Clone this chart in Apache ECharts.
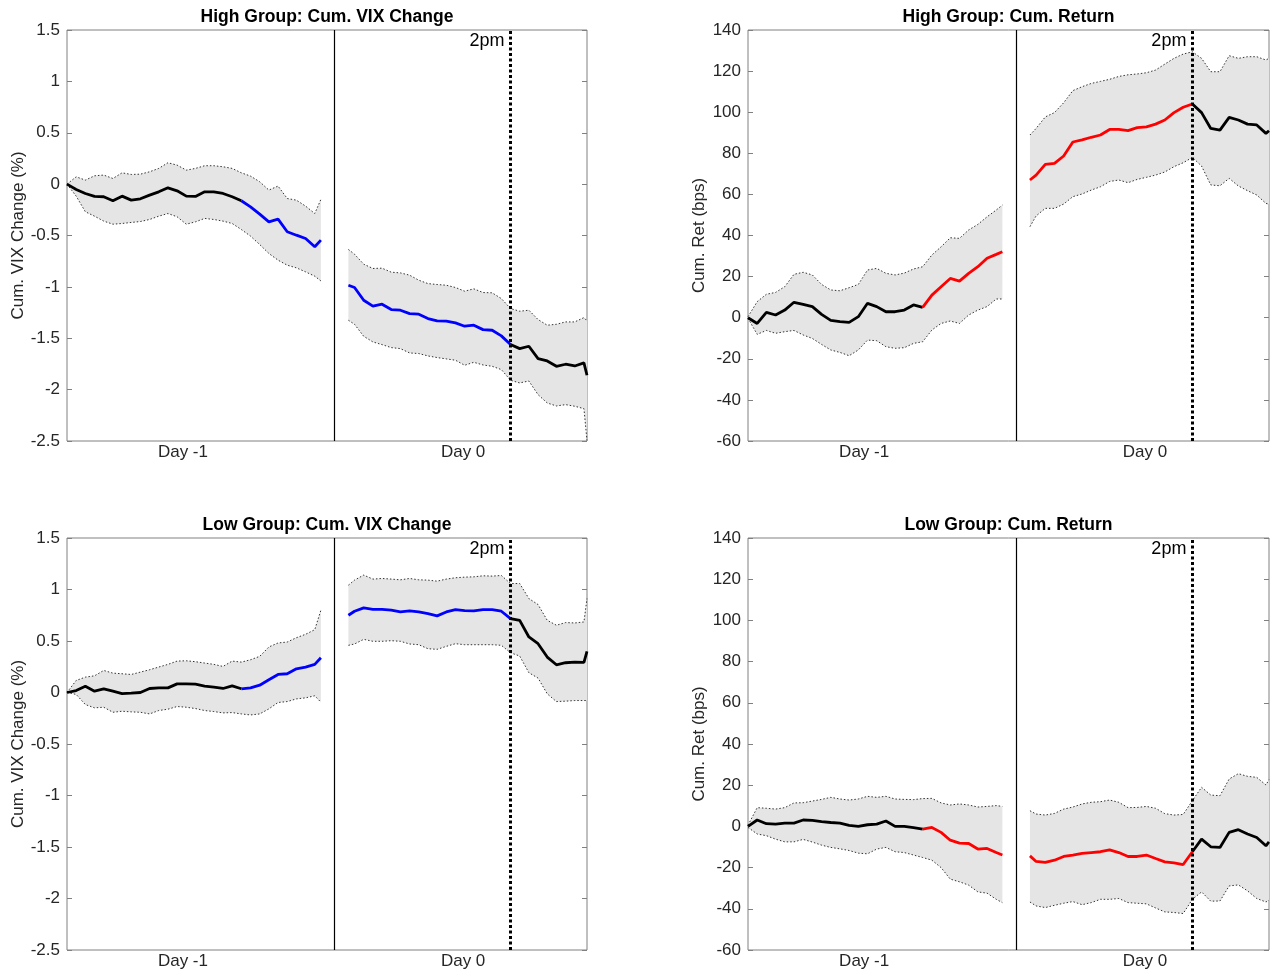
<!DOCTYPE html>
<html><head><meta charset="utf-8">
<script src="https://cdn.jsdelivr.net/npm/echarts@6/dist/echarts.min.js"></script>
<style>html,body{margin:0;padding:0;background:#fff}#c{width:1270px;height:973px}</style>
</head><body><div id="c"></div><script>
// x positions (5-minute bar index) of the sampled points
const d1X = [0,3,6,9,12,15,18,21,24,27,30,33,36,39,42,45,48,51,54,57,60,63,66,69,72,75,78,81,83];
const d0X = [92,94,97,100,103,106,109,112,115,118,121,124,127,130,133,136,139,142,145,148,151,154,157,160,163,166,169,170];
const colorStartD1 = 57;   // colored segment start on Day -1
const twoPm = 145;         // 2pm on Day 0
const dayBreak = 87.5;     // boundary between days
const xMax = 170;
const dayLabelPos = [37.9, 129.5];
const dayLabels = ['Day -1', 'Day 0'];

// High group, VIX
const hvMeanD1 = [0,-0.052,-0.091,-0.12,-0.123,-0.162,-0.117,-0.156,-0.143,-0.107,-0.075,-0.036,-0.065,-0.117,-0.12,-0.075,-0.075,-0.091,-0.123,-0.162,-0.221,-0.292,-0.367,-0.341,-0.464,-0.497,-0.529,-0.61,-0.545];
const hvUpD1 = [0,0.071,0.039,0.081,0.088,0.055,0.110,0.094,0.097,0.120,0.153,0.208,0.185,0.136,0.153,0.179,0.179,0.169,0.153,0.110,0.078,0.023,-0.058,-0.019,-0.140,-0.156,-0.214,-0.286,-0.149];
const hvLoD1 = [0,-0.117,-0.269,-0.312,-0.360,-0.390,-0.383,-0.373,-0.364,-0.344,-0.312,-0.286,-0.318,-0.390,-0.367,-0.334,-0.344,-0.360,-0.383,-0.442,-0.506,-0.588,-0.675,-0.740,-0.789,-0.815,-0.854,-0.896,-0.942];
const hvMeanD0 = [-0.984,-1.006,-1.130,-1.188,-1.169,-1.221,-1.227,-1.26,-1.266,-1.308,-1.331,-1.334,-1.351,-1.383,-1.373,-1.416,-1.422,-1.477,-1.56,-1.601,-1.578,-1.698,-1.721,-1.773,-1.753,-1.77,-1.74,-1.86];
const hvUpD0 = [-0.636,-0.682,-0.779,-0.821,-0.818,-0.857,-0.864,-0.886,-0.935,-0.968,-0.977,-0.984,-1.006,-1.042,-1.019,-1.055,-1.058,-1.114,-1.211,-1.237,-1.227,-1.318,-1.373,-1.364,-1.341,-1.341,-1.299,-1.331];
const hvLoD0 = [-1.325,-1.364,-1.481,-1.536,-1.562,-1.591,-1.601,-1.643,-1.649,-1.672,-1.688,-1.701,-1.714,-1.763,-1.734,-1.760,-1.773,-1.805,-1.909,-1.935,-1.916,-2.049,-2.130,-2.159,-2.146,-2.162,-2.185,-2.494];

// High group, return
const hrMeanD1 = [0,-2.8,2.6,1.3,3.7,7.5,6.5,5.4,1.6,-1.3,-1.9,-2.3,0.5,7.0,5.4,2.9,2.9,3.7,6.2,5.0,11.0,15.1,19.1,17.8,21.6,24.8,28.9,30.8,32.1];
const hrUpD1 = [0.5,7.8,11.4,12.3,15.1,21.1,22.1,20.8,16.2,13.5,13.1,14.6,16.2,23.2,24.0,21.6,20.8,21.7,23.7,24.8,30.5,34.5,38.9,38.6,42.7,45.4,49.1,52.4,54.8];
const hrLoD1 = [-0.3,-8.1,-6.2,-7.6,-6.8,-6.2,-8.4,-10.1,-13.0,-15.7,-16.9,-18.5,-15.7,-10.9,-11.2,-14.1,-14.9,-14.6,-12.5,-11.7,-6.0,-2.8,-1.6,-2.8,1.3,3.7,5.4,9.1,9.1];
const hrMeanD0 = [67.0,69.4,74.6,75.1,78.7,85.5,86.5,87.8,88.9,91.6,91.6,91.0,92.5,92.9,94.2,96.2,99.8,102.4,104.0,99.8,92.1,91.3,97.5,96.2,94.2,93.8,89.7,91.0];
const hrUpD0 = [88.9,92.1,97.7,99.8,104.6,110.5,112.4,114.0,115.0,116.0,117.4,118.2,118.6,119.2,120.5,123.4,126.2,128.3,129.4,126.2,119.7,119.7,127.5,126.2,127.0,127.0,125.4,126.2];
const hrLoD0 = [44.3,49.5,53.2,53.2,55.3,58.9,60.2,62.1,63.7,66.3,67.0,65.7,67.3,68.3,69.4,70.9,73.5,75.4,78.0,73.8,64.6,64.2,67.8,64.1,61.8,59.7,55.6,55.3];

// Low group, VIX
const lvMeanD1 = [0,0.019,0.06,0.013,0.036,0.013,-0.01,-0.006,0,0.039,0.045,0.045,0.084,0.084,0.081,0.062,0.052,0.039,0.065,0.036,0.045,0.071,0.123,0.175,0.182,0.230,0.247,0.273,0.338];
const lvUpD1 = [0,0.117,0.149,0.162,0.214,0.188,0.182,0.175,0.198,0.221,0.247,0.273,0.305,0.308,0.299,0.286,0.273,0.253,0.305,0.295,0.318,0.351,0.442,0.481,0.490,0.532,0.565,0.610,0.799];
const lvLoD1 = [0,-0.019,-0.117,-0.149,-0.143,-0.192,-0.182,-0.188,-0.192,-0.208,-0.175,-0.162,-0.136,-0.143,-0.156,-0.175,-0.185,-0.198,-0.195,-0.208,-0.218,-0.208,-0.159,-0.097,-0.088,-0.062,-0.052,-0.032,-0.094];
const lvMeanD0 = [0.750,0.789,0.821,0.808,0.808,0.799,0.782,0.792,0.782,0.766,0.744,0.782,0.805,0.795,0.792,0.805,0.805,0.789,0.718,0.70,0.539,0.474,0.344,0.269,0.289,0.295,0.292,0.399];
const lvUpD0 = [1.042,1.091,1.140,1.101,1.107,1.101,1.094,1.107,1.094,1.091,1.081,1.101,1.114,1.120,1.123,1.133,1.130,1.136,1.058,1.058,0.912,0.854,0.701,0.653,0.679,0.675,0.685,0.912];
const lvLoD0 = [0.458,0.471,0.516,0.497,0.497,0.503,0.497,0.471,0.464,0.425,0.419,0.448,0.474,0.464,0.464,0.464,0.464,0.458,0.386,0.354,0.192,0.140,-0.013,-0.088,-0.084,-0.078,-0.078,-0.078];

// Low group, return
const lrMeanD1 = [0,3.1,1.3,1.1,1.6,1.6,3.1,2.9,2.3,1.9,1.6,0.5,0,0.8,1.1,2.6,0,0,-0.6,-1.3,-0.5,-2.9,-6.7,-8.1,-8.3,-11.0,-10.7,-12.7,-13.9];
const lrUpD1 = [0.6,9.1,8.8,8.4,9.1,11.4,11.5,12.3,13.1,14.1,13.3,12.8,13.3,14.6,14.1,14.6,13.3,13.1,13.0,13.5,13.6,11.4,10.4,10.9,10.4,9.4,9.7,10.1,9.7];
const lrLoD1 = [-0.5,-3.7,-4.5,-6.2,-7.5,-7.5,-6.3,-7.6,-9.1,-10.2,-10.9,-11.7,-13.0,-13.3,-11.0,-10.2,-12.3,-12.7,-13.9,-15.1,-16.4,-20.0,-25.6,-26.9,-28.5,-31.8,-32.4,-35.4,-37.0];
const lrMeanD0 = [-14.3,-17.0,-17.5,-16.4,-14.6,-13.9,-13.1,-12.7,-12.3,-11.4,-12.7,-14.6,-14.6,-13.9,-15.6,-17.2,-17.7,-18.5,-12.3,-6.2,-9.9,-10.2,-2.9,-1.6,-3.7,-5.4,-9.4,-7.5];
const lrUpD0 = [7.6,6.0,5.5,6.3,8.4,9.4,10.9,11.7,12.0,12.8,11.7,9.1,9.2,9.7,8.8,6.2,5.5,5.8,12.5,19.0,15.2,14.9,23.0,25.6,24.3,23.8,20.1,22.7];
const lrLoD0 = [-36.7,-38.6,-39.4,-38.3,-37.3,-36.5,-38.0,-37.0,-35.4,-35.4,-35.0,-37.0,-37.3,-37.6,-39.6,-41.5,-41.8,-42.3,-35.4,-31.8,-36.3,-36.2,-28.9,-28.4,-31.3,-35.0,-36.7,-35.8];

const panels = [
  {title:'High Group: Cum. VIX Change', yName:'Cum. VIX Change (%)', yMin:-2.5, yMax:1.5, yInt:0.5, col:'#0000ff',
   m1:hvMeanD1,u1:hvUpD1,l1:hvLoD1,m0:hvMeanD0,u0:hvUpD0,l0:hvLoD0},
  {title:'High Group: Cum. Return', yName:'Cum. Ret (bps)', yMin:-60, yMax:140, yInt:20, col:'#ff0000',
   m1:hrMeanD1,u1:hrUpD1,l1:hrLoD1,m0:hrMeanD0,u0:hrUpD0,l0:hrLoD0},
  {title:'Low Group: Cum. VIX Change', yName:'Cum. VIX Change (%)', yMin:-2.5, yMax:1.5, yInt:0.5, col:'#0000ff',
   m1:lvMeanD1,u1:lvUpD1,l1:lvLoD1,m0:lvMeanD0,u0:lvUpD0,l0:lvLoD0},
  {title:'Low Group: Cum. Return', yName:'Cum. Ret (bps)', yMin:-60, yMax:140, yInt:20, col:'#ff0000',
   m1:lrMeanD1,u1:lrUpD1,l1:lrLoD1,m0:lrMeanD0,u0:lrUpD0,l0:lrLoD0}
];

const gridRects = [
  {left:67, top:30, width:520, height:411},
  {left:748, top:30, width:521, height:411},
  {left:67, top:538, width:520, height:412},
  {left:748, top:538, width:521, height:412}
];

const FONT = 'Liberation Sans, Arial, Helvetica, sans-serif';
const TXT = '#262626';
const BOX = '#808080';

function zip(xs, ys, a, b) {
  const out = [];
  for (let k = a; k < b; k++) out.push([xs[k], ys[k]]);
  return out;
}

const grid = [], xAxis = [], yAxis = [], series = [], graphic = [];
const s1 = d1X.indexOf(colorStartD1);
const s0 = d0X.indexOf(twoPm);

panels.forEach((p, i) => {
  const g = gridRects[i];
  grid.push(Object.assign({show:true, borderColor:BOX, borderWidth:1, backgroundColor:'transparent', containLabel:false}, g));
  xAxis.push({
    type:'value', gridIndex:i, min:0, max:xMax,
    axisLine:{show:false}, axisTick:{show:false}, splitLine:{show:false},
    axisLabel:{customValues:dayLabelPos, formatter:(v)=>{const k=dayLabelPos.indexOf(v);return k>=0?dayLabels[k]:'';},
      fontSize:17, color:TXT, margin:3, fontFamily:FONT}
  });
  yAxis.push({
    type:'value', gridIndex:i, min:p.yMin, max:p.yMax, interval:p.yInt, position:'left',
    axisLine:{show:false}, splitLine:{show:false},
    axisTick:{show:true, inside:true, length:5, lineStyle:{color:BOX}},
    axisLabel:{fontSize:17, color:TXT, margin:7, fontFamily:FONT},
    name:p.yName, nameLocation:'middle', nameGap:40,
    nameTextStyle:{fontSize:17, color:TXT, fontFamily:FONT}
  });
  yAxis.push({
    type:'value', gridIndex:i, min:p.yMin, max:p.yMax, interval:p.yInt, position:'right',
    axisLine:{show:false}, splitLine:{show:false}, axisLabel:{show:false},
    axisTick:{show:true, inside:true, length:5, lineStyle:{color:BOX}}
  });
  const xi = i, yi = 2*i;
  const days = [[d1X, p.m1, p.u1, p.l1], [d0X, p.m0, p.u0, p.l0]];
  days.forEach(([xs, m, u, l], di) => {
    // shaded band
    series.push({
      type:'custom', xAxisIndex:xi, yAxisIndex:yi, silent:true, z:1,
      data:[[xs[0], m[0]]],
      renderItem:(params, api) => {
        const pts = [];
        for (let k = 0; k < xs.length; k++) pts.push(api.coord([xs[k], u[k]]));
        for (let k = xs.length - 1; k >= 0; k--) pts.push(api.coord([xs[k], l[k]]));
        return {type:'polygon', shape:{points:pts}, style:{fill:'#e5e5e5', stroke:null}};
      }
    });
    // dotted bounds
    [u, l].forEach((arr) => {
      series.push({
        type:'line', xAxisIndex:xi, yAxisIndex:yi, silent:true, z:2, showSymbol:false,
        data:zip(xs, arr, 0, xs.length),
        lineStyle:{color:'#333', width:1, type:[1.5,2]}
      });
    });
    // mean line: black / colored segments
    const split = di === 0 ? s1 : s0;
    const firstCol = di === 0 ? '#000000' : p.col;
    const secondCol = di === 0 ? p.col : '#000000';
    series.push({
      type:'line', xAxisIndex:xi, yAxisIndex:yi, silent:true, z:4, showSymbol:false,
      data:zip(xs, m, 0, split + 1), lineStyle:{color:firstCol, width:2.8}
    });
    series.push({
      type:'line', xAxisIndex:xi, yAxisIndex:yi, silent:true, z:4, showSymbol:false,
      data:zip(xs, m, split, xs.length), lineStyle:{color:secondCol, width:2.8}
    });
  });
  // vertical lines
  series.push({
    type:'line', xAxisIndex:xi, yAxisIndex:yi, silent:true, z:5, data:[],
    markLine:{silent:true, symbol:['none','none'], label:{show:false}, animation:false,
      data:[
        {xAxis:dayBreak, lineStyle:{color:'#000', width:1.2, type:'solid'}},
        {xAxis:twoPm, lineStyle:{color:'#000', width:3, type:[3,2.5]}}
      ]}
  });
  // 2pm label
  series.push({
    type:'scatter', xAxisIndex:xi, yAxisIndex:yi, silent:true, z:6, symbolSize:2, clip:false,
    itemStyle:{color:'rgba(0,0,0,0)'},
    data:[[twoPm, p.yMax]],
    label:{show:true, formatter:'2pm', position:[-5, 3], align:'right', verticalAlign:'top',
      fontSize:18, color:'#000000', opacity:1, fontFamily:FONT}
  });
  // title
  graphic.push({
    type:'text', x:g.left + g.width/2, y:g.top - 13, silent:true,
    style:{text:p.title, align:'center', verticalAlign:'middle', fontSize:17.5, fontWeight:'bold', fill:'#000', fontFamily:FONT}
  });
});

const chart = echarts.init(document.getElementById('c'), null, {renderer:'canvas'});
chart.setOption({
  animation:false,
  backgroundColor:'#ffffff',
  textStyle:{fontFamily:FONT},
  grid, xAxis, yAxis, series, graphic
});
</script></body></html>
